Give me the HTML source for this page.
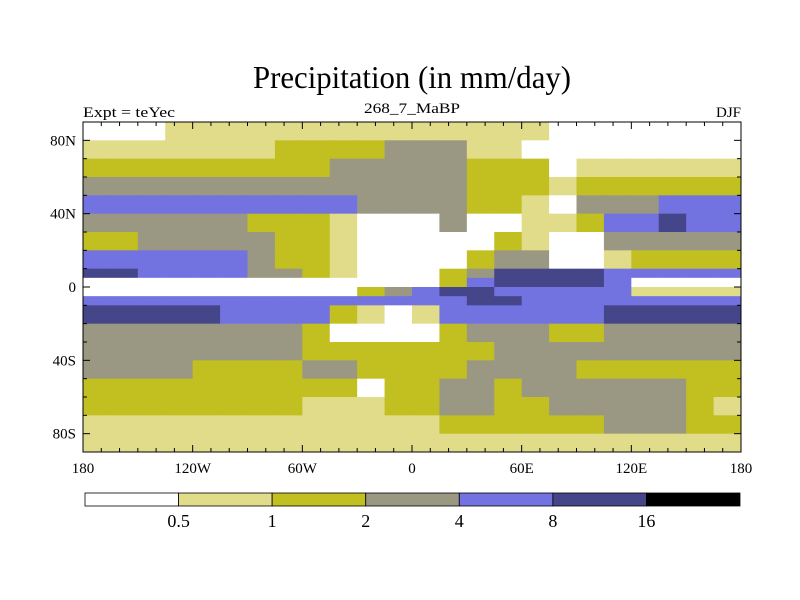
<!DOCTYPE html>
<html><head><meta charset="utf-8"><style>
html,body{margin:0;padding:0;background:#fff;}
svg{display:block;font-family:"Liberation Serif",serif;}
</style></head><body>
<svg id="chart" width="800" height="600" viewBox="0 0 800 600">
<text x="412" y="88" font-size="32" text-anchor="middle" textLength="318" lengthAdjust="spacingAndGlyphs">Precipitation (in mm/day)</text>
<text x="83" y="117" font-size="15" textLength="92" lengthAdjust="spacingAndGlyphs">Expt = teYec</text>
<text x="412" y="113" font-size="15" text-anchor="middle" textLength="96" lengthAdjust="spacingAndGlyphs">268_7_MaBP</text>
<text x="741" y="117" font-size="15" text-anchor="end">DJF</text>
<g id="cells"></g>
<rect x="83" y="122" width="658" height="330" fill="none" stroke="#000" stroke-width="1"/>
<g id="ticks"></g>
<g id="labels" font-size="15"></g>
<g id="colorbar"></g>
</svg>
<script>
const lonEdges = [-180,-165,-150,-135,-120,-105,-90,-75,-60,-45,-30,-15,0,15,30,45,60,75,90,105,120,135,150,165,180];
const latEdges = [90,80,70,60,50,40,30,20,10,5,0,-5,-10,-20,-30,-40,-50,-60,-70,-80,-90];
const levels = [0.5,1,2,4,8,16];
const levelColors = ["#ffffff","#e0dc8a","#c2bf20","#9a9882","#7272e0","#45458a","#000000"];
const precip = [
[0.3,0.3,0.3,0.7,0.7,0.7,0.7,0.7,0.7,0.7,0.7,0.7,0.7,0.7,0.7,0.7,0.7,0.3,0.3,0.3,0.3,0.3,0.3,0.3],
[0.7,0.7,0.7,0.7,0.7,0.7,0.7,1.5,1.5,1.5,1.5,3,3,3,0.7,0.7,0.3,0.3,0.3,0.3,0.3,0.3,0.3,0.3],
[1.5,1.5,1.5,1.5,1.5,1.5,1.5,1.5,1.5,3,3,3,3,3,1.5,1.5,1.5,0.3,0.7,0.7,0.7,0.7,0.7,0.7],
[3,3,3,3,3,3,3,3,3,3,3,3,3,3,1.5,1.5,1.5,0.7,1.5,1.5,1.5,1.5,1.5,1.5],
[6,6,6,6,6,6,6,6,6,6,3,3,3,3,1.5,1.5,0.7,0.3,3,3,3,6,6,6],
[3,3,3,3,3,3,1.5,1.5,1.5,0.7,0.3,0.3,0.3,3,0.3,0.3,0.7,0.7,1.5,6,6,12,6,6],
[1.5,1.5,3,3,3,3,3,1.5,1.5,0.7,0.3,0.3,0.3,0.3,0.3,1.5,0.7,0.3,0.3,3,3,3,3,3],
[6,6,6,6,6,6,3,1.5,1.5,0.7,0.3,0.3,0.3,0.3,1.5,3,3,0.3,0.3,0.7,1.5,1.5,1.5,1.5],
[12,12,6,6,6,6,3,3,1.5,0.7,0.3,0.3,0.3,1.5,3,12,12,12,12,6,6,6,6,6],
[0.3,0.3,0.3,0.3,0.3,0.3,0.3,0.3,0.3,0.3,0.3,0.3,0.3,1.5,6,12,12,12,12,6,0.3,0.3,0.3,0.3],
[0.3,0.3,0.3,0.3,0.3,0.3,0.3,0.3,0.3,0.3,1.5,3,6,12,12,6,6,6,6,6,0.7,0.7,0.7,0.7],
[6,6,6,6,6,6,6,6,6,6,6,6,6,6,12,12,6,6,6,6,6,6,6,6],
[12,12,12,12,12,6,6,6,6,1.5,0.7,0.3,0.7,6,6,6,6,6,6,12,12,12,12,12],
[3,3,3,3,3,3,3,3,1.5,0.3,0.3,0.3,0.3,1.5,3,3,3,1.5,1.5,3,3,3,3,3],
[3,3,3,3,3,3,3,3,1.5,1.5,1.5,1.5,1.5,1.5,1.5,3,3,3,3,3,3,3,3,3],
[3,3,3,3,1.5,1.5,1.5,1.5,3,3,1.5,1.5,1.5,1.5,3,3,3,3,1.5,1.5,1.5,1.5,1.5,1.5],
[1.5,1.5,1.5,1.5,1.5,1.5,1.5,1.5,1.5,1.5,0.3,1.5,1.5,3,3,1.5,3,3,3,3,3,3,1.5,1.5],
[1.5,1.5,1.5,1.5,1.5,1.5,1.5,1.5,0.7,0.7,0.7,1.5,1.5,3,3,1.5,1.5,3,3,3,3,3,1.5,0.7],
[0.7,0.7,0.7,0.7,0.7,0.7,0.7,0.7,0.7,0.7,0.7,0.7,0.7,1.5,1.5,1.5,1.5,1.5,1.5,3,3,3,1.5,1.5],
[0.7,0.7,0.7,0.7,0.7,0.7,0.7,0.7,0.7,0.7,0.7,0.7,0.7,0.7,0.7,0.7,0.7,0.7,0.7,0.7,0.7,0.7,0.7,0.7]
];
const lonTickValues = [-180,-120,-60,0,60,120,180];
const lonTickLabels = ["180","120W","60W","0","60E","120E","180"];
const latTickValues = [80,40,0,-40,-80];
const latTickLabels = ["80N","40N","0","40S","80S"];
const cbarLabels = ["0.5","1","2","4","8","16"];

const NS="http://www.w3.org/2000/svg";
const X0=83,X1=741,Y0=122,Y1=452;
const xOf = lon => X0 + (lon+180)/360*(X1-X0);
const yOf = lat => Y0 + (90-lat)/180*(Y1-Y0);
function colorOf(v){let i=0;while(i<levels.length&&v>=levels[i])i++;return levelColors[i];}
function mk(tag,attrs,parent){const e=document.createElementNS(NS,tag);for(const k in attrs)e.setAttribute(k,attrs[k]);parent.appendChild(e);return e;}

const cells=document.getElementById('cells');
for(let r=0;r<precip.length;r++){
  for(let c=0;c<precip[r].length;c++){
    const x=xOf(lonEdges[c]),x2=xOf(lonEdges[c+1]),y=yOf(latEdges[r]),y2=yOf(latEdges[r+1]);
    const el=mk('rect',{x:x,y:y,width:x2-x+0.5,height:y2-y+0.5,fill:colorOf(precip[r][c])},cells);
    
    
  }
}
const ticks=document.getElementById('ticks');
for(let lon=-180;lon<=180;lon+=10){
  const x=xOf(lon),len=(lon%60===0)?7:4;
  mk('line',{x1:x,y1:Y0,x2:x,y2:Y0+len,stroke:'#000'},ticks);
  mk('line',{x1:x,y1:Y1,x2:x,y2:Y1-len,stroke:'#000'},ticks);
}
for(let lat=-90;lat<=90;lat+=10){
  const y=yOf(lat),len=(lat%40===0)?7:4;
  mk('line',{x1:X0,y1:y,x2:X0+len,y2:y,stroke:'#000'},ticks);
  mk('line',{x1:X1,y1:y,x2:X1-len,y2:y,stroke:'#000'},ticks);
}
const labels=document.getElementById('labels');
lonTickValues.forEach((v,i)=>{
  const t=mk('text',{x:xOf(v),y:473,'text-anchor':'middle'},labels);t.textContent=lonTickLabels[i];
  
  
});
latTickValues.forEach((v,i)=>{
  const t=mk('text',{x:76,y:yOf(v)+5,'text-anchor':'end'},labels);t.textContent=latTickLabels[i];
  
  
});
const cb=document.getElementById('colorbar');
const CB0=85,CB1=740,n=levelColors.length,w=(CB1-CB0)/n;
levelColors.forEach((col,i)=>{
  const r=mk('rect',{x:CB0+i*w,y:493,width:w,height:13,fill:col,stroke:'#000','stroke-width':0.8},cb);
  
  
});
cbarLabels.forEach((l,i)=>{
  const t=mk('text',{x:CB0+(i+1)*w,y:527,'text-anchor':'middle','font-size':18},cb);t.textContent=l;
  
  
});
</script>
</body></html>
